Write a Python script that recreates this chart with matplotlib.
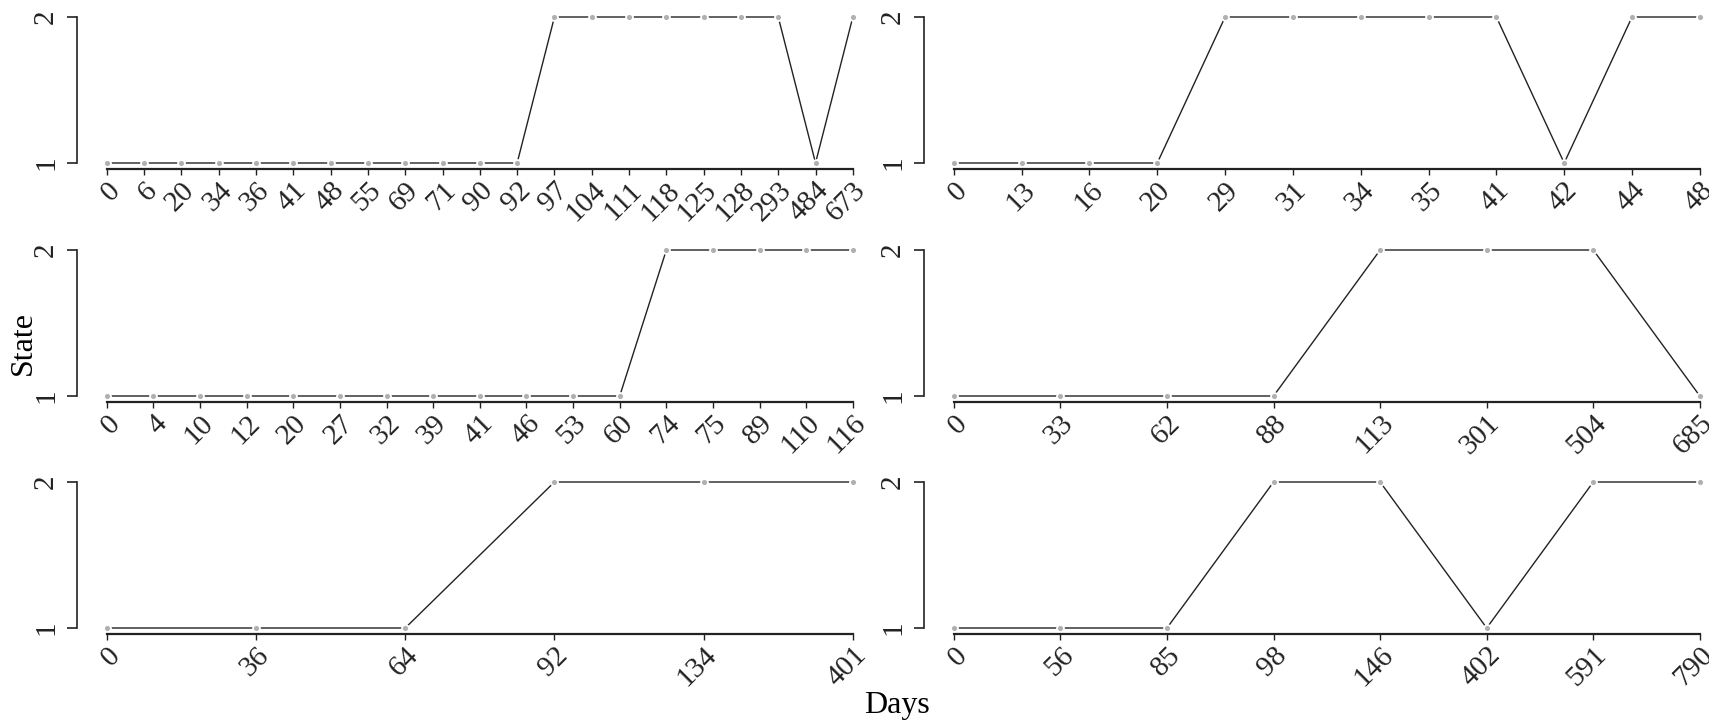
import matplotlib
matplotlib.use('Agg')
import matplotlib.pyplot as plt

plt.rcParams['font.family'] = ['Liberation Serif', 'DejaVu Serif']

# days (tick labels) and state for each panel, row by row
days1 = [0, 6, 20, 34, 36, 41, 48, 55, 69, 71, 90, 92, 97, 104, 111, 118, 125, 128, 293, 484, 673]
state1 = [1, 1, 1, 1, 1, 1, 1, 1, 1, 1, 1, 1, 2, 2, 2, 2, 2, 2, 2, 1, 2]

days2 = [0, 13, 16, 20, 29, 31, 34, 35, 41, 42, 44, 48]
state2 = [1, 1, 1, 1, 2, 2, 2, 2, 2, 1, 2, 2]

days3 = [0, 4, 10, 12, 20, 27, 32, 39, 41, 46, 53, 60, 74, 75, 89, 110, 116]
state3 = [1, 1, 1, 1, 1, 1, 1, 1, 1, 1, 1, 1, 2, 2, 2, 2, 2]

days4 = [0, 33, 62, 88, 113, 301, 504, 685]
state4 = [1, 1, 1, 1, 2, 2, 2, 1]

days5 = [0, 36, 64, 92, 134, 401]
state5 = [1, 1, 1, 2, 2, 2]

days6 = [0, 56, 85, 98, 146, 402, 591, 790]
state6 = [1, 1, 1, 2, 2, 1, 2, 2]

W, H = 1709, 727
fig = plt.figure(figsize=(W / 100, H / 100), dpi=100)

span = 746      # pixels between first and last point
yspan = 146     # pixels between state 1 and state 2
col_x = [77, 924]
row_y1 = [163, 396, 628]


def panel(x0, y1px, days, states):
    bottom = H - (y1px + yspan * 0.04)
    ax = fig.add_axes([x0 / W, bottom / H, span * 1.08 / W, yspan * 1.08 / H])
    n = len(days)
    pos = list(range(n))
    ax.plot(pos, states, color='#222222', lw=1.0, marker='o', ms=5, mfc='#b0b0b0',
            mec='white', mew=1.3, clip_on=False)
    ax.set_xlim(-0.04 * (n - 1), 1.04 * (n - 1))
    ax.set_ylim(0.96, 2.04)
    ax.spines['top'].set_visible(False)
    ax.spines['right'].set_visible(False)
    ax.spines['left'].set_bounds(1, 2)
    ax.spines['bottom'].set_bounds(0, n - 1)
    ax.spines['left'].set_linewidth(1.2)
    ax.spines['bottom'].set_linewidth(1.6)
    ax.spines['left'].set_color('#222222')
    ax.spines['bottom'].set_color('#222222')
    ax.set_xticks(pos)
    ax.set_xticklabels([str(d) for d in days], rotation=45, ha='right', va='top',
                       rotation_mode='anchor', fontsize=21)
    ax.set_yticks([1, 2])
    ax.set_yticklabels(['1', '2'], rotation=90, va='center', fontsize=21)
    ax.tick_params(axis='x', length=4, width=1.0, pad=2, colors='#222222')
    ax.tick_params(axis='y', length=7, width=1.2, pad=6, colors='#222222')
    ax.patch.set_visible(False)
    return ax


panel(col_x[0], row_y1[0], days1, state1)
panel(col_x[1], row_y1[0], days2, state2)
panel(col_x[0], row_y1[1], days3, state3)
panel(col_x[1], row_y1[1], days4, state4)
panel(col_x[0], row_y1[2], days5, state5)
panel(col_x[1], row_y1[2], days6, state6)

fig.text(23 / W, 1 - 343 / H, 'State', rotation=90, ha='center', va='center', fontsize=23)
fig.text(897 / W, 1 - 705 / H, 'Days', ha='center', va='center', fontsize=23)

fig.savefig('out.png', dpi=100)
